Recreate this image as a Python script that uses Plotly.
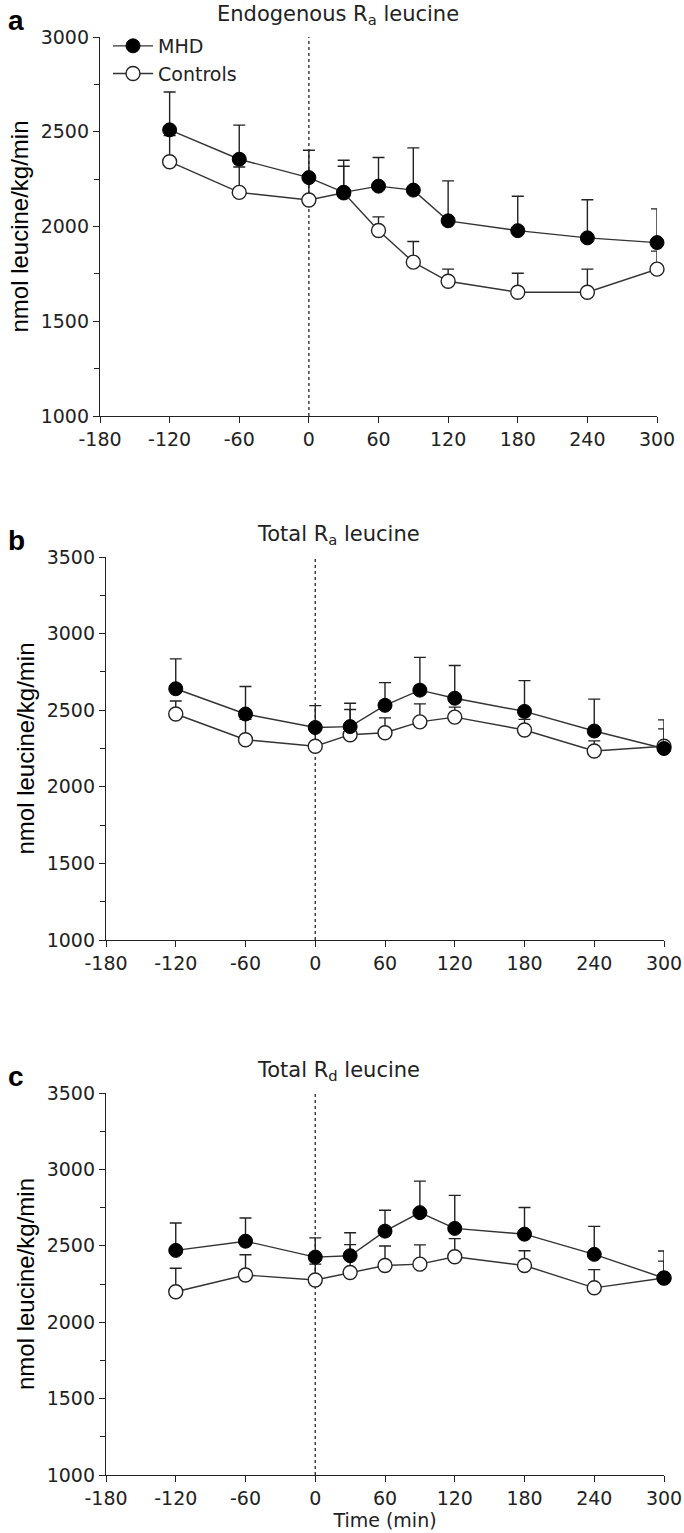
import plotly.graph_objects as go

# ---------------- data ----------------
time_min = [-120, -60, 0, 30, 60, 90, 120, 180, 240, 300]
x_ticks = [-180, -120, -60, 0, 60, 120, 180, 240, 300]
infusion_start = 0

# panel a: Endogenous Ra leucine
a_mhd = [2510, 2355, 2258, 2180, 2213, 2192, 2030, 1978, 1940, 1915]
a_mhd_upper = [2710, 2535, 2402, 2350, 2364, 2415, 2241, 2160, 2141, 2093]
a_ctl = [2342, 2180, 2140, 2178, 1979, 1812, 1711, 1653, 1653, 1775]
a_ctl_upper = [2480, 2314, 2250, 2318, 2051, 1921, 1775, 1753, 1775, 1870]

# panel b: Total Ra leucine
b_mhd = [2640, 2475, 2387, 2393, 2532, 2631, 2578, 2492, 2364, 2250]
b_mhd_upper = [2835, 2655, 2530, 2545, 2680, 2845, 2792, 2693, 2572, 2437]
b_ctl = [2475, 2307, 2265, 2340, 2353, 2424, 2455, 2371, 2234, 2265]
b_ctl_upper = [2560, 2440, 2370, 2505, 2450, 2541, 2520, 2440, 2300, 2378]

# panel c: Total Rd leucine
c_mhd = [2470, 2530, 2426, 2435, 2596, 2717, 2614, 2576, 2444, 2289]
c_mhd_upper = [2649, 2682, 2552, 2585, 2733, 2923, 2830, 2751, 2627, 2466]
c_ctl = [2199, 2309, 2276, 2325, 2371, 2380, 2428, 2371, 2225, 2289]
c_ctl_upper = [2353, 2441, 2380, 2508, 2499, 2506, 2547, 2468, 2344, 2400]

titles = ["Endogenous R<sub>a</sub> leucine", "Total R<sub>a</sub> leucine", "Total R<sub>d</sub> leucine"]
letters = ["a", "b", "c"]
y_ranges = [[1000, 3000], [1000, 3500], [1000, 3500]]
y_title = "nmol leucine/kg/min"
x_title = "Time (min)"

# ---------------- layout geometry ----------------
W, H = 684, 1533
# (left px, right px, top px, bottom px)
boxes = [(100, 657, 37, 416), (106, 664, 557, 940), (106, 664, 1093, 1475)]

TICKFONT = dict(family="DejaVu Sans", size=19, color="#222")
LINE = "#333333"

fig = go.Figure()

panels = [
    (a_mhd, a_mhd_upper, a_ctl, a_ctl_upper),
    (b_mhd, b_mhd_upper, b_ctl, b_ctl_upper),
    (c_mhd, c_mhd_upper, c_ctl, c_ctl_upper),
]

for i, (mhd, mhd_up, ctl, ctl_up) in enumerate(panels):
    xa = "x" if i == 0 else f"x{i+1}"
    ya = "y" if i == 0 else f"y{i+1}"
    # controls first (drawn underneath)
    fig.add_trace(go.Scatter(
        x=time_min, y=ctl, xaxis=xa, yaxis=ya, mode="lines+markers",
        name="Controls", showlegend=(i == 0), legendrank=2,
        line=dict(color=LINE, width=1.4),
        marker=dict(symbol="circle", size=14, color="white", line=dict(color="#222", width=1.4)),
        error_y=dict(type="data", symmetric=False,
                     array=[u - m for u, m in zip(ctl_up, ctl)],
                     arrayminus=[0] * len(ctl), color="#222", thickness=1.4, width=6),
        cliponaxis=False,
    ))
    fig.add_trace(go.Scatter(
        x=time_min, y=mhd, xaxis=xa, yaxis=ya, mode="lines+markers",
        name="MHD", showlegend=(i == 0), legendrank=1,
        line=dict(color=LINE, width=1.4),
        marker=dict(symbol="circle", size=14, color="black", line=dict(color="black", width=1)),
        error_y=dict(type="data", symmetric=False,
                     array=[u - m for u, m in zip(mhd_up, mhd)],
                     arrayminus=[0] * len(mhd), color="#222", thickness=1.4, width=6),
        cliponaxis=False,
    ))

layout = dict(
    width=W, height=H, margin=dict(l=0, r=0, t=0, b=0, autoexpand=False),
    paper_bgcolor="white", plot_bgcolor="white", showlegend=True,
    legend=dict(x=108 / W, y=1 - 27 / H, xanchor="left", yanchor="top",
                bgcolor="rgba(0,0,0,0)", font=dict(family="DejaVu Sans", size=19, color="#222"),
                tracegroupgap=0, itemwidth=40),
)

annotations = []
shapes = []
for i, (l, r, t, b) in enumerate(boxes):
    xk = "xaxis" if i == 0 else f"xaxis{i+1}"
    yk = "yaxis" if i == 0 else f"yaxis{i+1}"
    ya = "y" if i == 0 else f"y{i+1}"
    xa = "x" if i == 0 else f"x{i+1}"
    layout[xk] = dict(
        domain=[l / W, r / W], anchor=ya, range=[-180, 300], automargin=False,
        tickvals=x_ticks, ticktext=[str(v) for v in x_ticks],
        showline=True, linecolor="#222", linewidth=1.4, mirror=False,
        ticks="outside", ticklen=6, tickwidth=1.4, tickcolor="#222",
        showgrid=False, zeroline=False, tickfont=TICKFONT,
        title=dict(text=x_title if i == 2 else "", font=dict(family="DejaVu Sans", size=19, color="#222"), standoff=4),
    )
    layout[yk] = dict(
        domain=[1 - b / H, 1 - t / H], anchor=xa, range=y_ranges[i], automargin=False,
        dtick=500, showline=True, linecolor="#222", linewidth=1.4,
        ticks="outside", ticklen=6, tickwidth=1.4, tickcolor="#222",
        minor=dict(dtick=250, ticks="outside", ticklen=5, tickwidth=1.2, tickcolor="#222"),
        showgrid=False, zeroline=False, tickfont=TICKFONT,
        title=dict(text=y_title, font=dict(family="Liberation Sans, Arial", size=24, color="black"), standoff=5),
    )
    shapes.append(dict(type="line", xref=xa, yref=f"{ya} domain", x0=infusion_start, x1=infusion_start,
                       y0=0, y1=1, line=dict(color="#333", width=1.4, dash="dot"), layer="below"))
    annotations.append(dict(text=titles[i], xref="paper", yref="paper",
                            x=338 / W, y=1 - (t - 22) / H, xanchor="center", yanchor="middle",
                            showarrow=False, font=dict(family="DejaVu Sans", size=21, color="#222")))
    annotations.append(dict(text=f"<b>{letters[i]}</b>", xref="paper", yref="paper",
                            x=6 / W, y=1 - (t - 17) / H, xanchor="left", yanchor="middle",
                            showarrow=False, font=dict(family="Liberation Sans, Arial", size=28, color="black")))

layout["annotations"] = annotations
layout["shapes"] = shapes
fig.update_layout(**layout)
fig.write_html("out.html", config={"displayModeBar": False},
               post_script="document.body.style.margin='0';")
